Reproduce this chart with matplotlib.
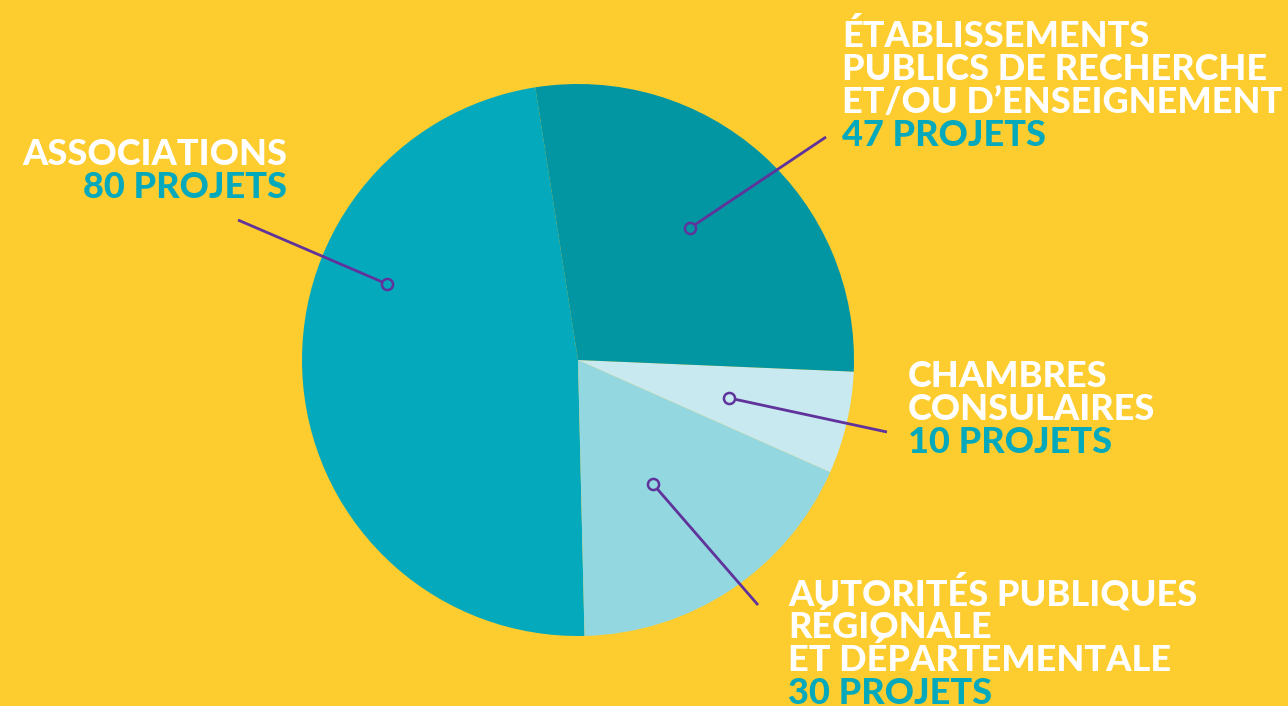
import matplotlib.pyplot as plt

# data
labels = [["ASSOCIATIONS"],
          ["AUTORITÉS PUBLIQUES", "RÉGIONALE", "ET DÉPARTEMENTALE"],
          ["CHAMBRES", "CONSULAIRES"],
          ["ÉTABLISSEMENTS", "PUBLICS DE RECHERCHE", "ET/OU D\u2019ENSEIGNEMENT"]]
values = [80, 30, 10, 47]
colors = ["#04A9BC", "#93D7E0", "#C7E9EF", "#0295A2"]

BG = "#FDCC2F"
TEAL = "#04A9BC"
PURPLE = "#5F339B"
W, H = 1288, 706

# layout in pixel coords (y down), converted below
CX, CY, R = 578, 360, 276
# text anchor x, first baseline y, alignment
text_pos = [(287, 165, "right"), (788, 605, "left"), (908, 387, "left"), (842, 47, "left")]
# leader line: dot on the wedge -> outer end
leaders = [((387, 284), (238, 220)), ((653, 484), (758, 605)),
           ((729, 398), (887, 432)), ((690, 228), (826, 137))]
LINE_H = 33

fig = plt.figure(figsize=(W / 100, H / 100), dpi=100)
fig.patch.set_facecolor(BG)
ax = fig.add_axes([0, 0, 1, 1])
ax.set_facecolor(BG)

ax.pie(values, colors=colors, startangle=98.9, counterclock=True,
       center=(CX, H - CY), radius=R, wedgeprops=dict(linewidth=0))
ax.set_xlim(0, W)
ax.set_ylim(0, H)
ax.set_aspect("equal")
ax.axis("off")

font = dict(family=["Lato", "DejaVu Sans"], fontweight="black", fontsize=26)

for lines, val, (tx, ty, ha) in zip(labels, values, text_pos):
    y = ty
    for ln in lines:
        ax.text(tx, H - y, ln, color="white", ha=ha, va="baseline", **font)
        y += LINE_H
    ax.text(tx, H - y, f"{val} PROJETS", color=TEAL, ha=ha, va="baseline", **font)

for (dot, end), col in zip(leaders, colors):
    ax.plot([dot[0], end[0]], [H - dot[1], H - end[1]], color=PURPLE, lw=2, solid_capstyle="butt")
    ax.plot(dot[0], H - dot[1], "o", ms=8, mfc=col, mec=PURPLE, mew=1.8)

fig.savefig("out.png", dpi=100, facecolor=BG)
